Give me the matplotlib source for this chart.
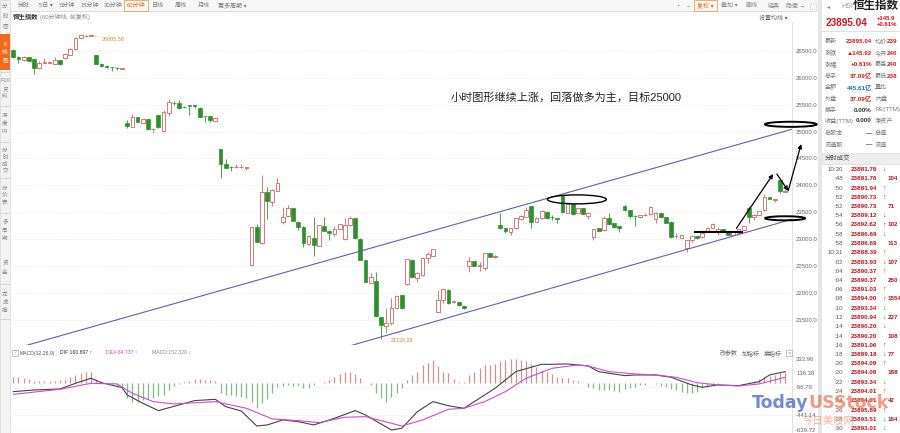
import matplotlib
matplotlib.use("Agg")
import matplotlib.pyplot as plt
from matplotlib.patches import Rectangle, Ellipse
import numpy as np

plt.rcParams['font.family'] = ['Liberation Sans', 'Noto Sans CJK SC', 'DejaVu Sans']

W, H = 900, 433

# 60-minute HSI candles
opens = [26514, 26390, 26328, 26378, 26340, 26173, 26279, 26280, 26260, 26322,
         26359, 26421, 26526, 26743, 26774, 26780, 26421, 26254, 26223, 26192,
         26186, 26167, 25152, 25084, 25263, 25158, 25226, 25040, 25307, 25016,
         25350, 25530, 25530, 25462, 25486, 25486, 25443, 25288, 25288, 25201,
         24669, 24391, 24347, 24335, 24335, 24323, 22521, 23233, 22936, 23871,
         23697, 23902, 23314, 23431, 23574, 23326, 23233, 22905, 23016, 22880,
         23252, 23159, 23103, 23190, 23010, 23258, 23388, 23010, 22608, 22193,
         22230, 21549, 21382, 21438, 21717, 21964, 22162, 22614, 22286, 22335,
         22645, 22688, 21654, 21871, 22057, 21840, 21840, 21760, 22502, 22589,
         22509, 22459, 22738, 22670, 23264, 23202, 23140, 23202, 23369, 23419,
         23617, 23320, 23388, 23511, 23407, 23388, 23808, 23493, 23654, 23493,
         23573, 23431, 23035, 23202, 23171, 23388, 23295, 23245, 23617, 23542,
         23437, 23406, 23450, 23462, 23369, 23480, 23406, 23326, 23060, 23016,
         22830, 22985, 23060, 23035, 23140, 23202, 23159, 23183, 23140, 23078,
         23121, 23171, 23573, 23406, 23450, 23542, 23778, 23734, 24099, 23880]
highs = [26532, 26402, 26402, 26384, 26353, 26310, 26359, 26290, 26378, 26334,
         26458, 26551, 26755, 26792, 26795, 26805.58, 26427, 26279, 26229, 26204,
         26204, 26186, 25214, 25332, 25270, 25239, 25232, 25065, 25313, 25400,
         25598, 25567, 25585, 25474, 25492, 25492, 25455, 25294, 25294, 25263,
         24675, 24484, 24353, 24391, 24403, 24347, 23233, 23283, 24193, 23976,
         23926, 24131, 23605, 23636, 23580, 23332, 23239, 23072, 23406, 23264,
         23406, 23165, 23239, 23283, 23388, 23431, 23394, 23016, 22614, 22366,
         22385, 21556, 21716, 21902, 21964, 21970, 22639, 22626, 22397, 22657,
         22769, 22824, 22057, 22088, 22069, 21871, 21846, 21766, 22676, 22595,
         22583, 22750, 22744, 22707, 23480, 23208, 23214, 23400, 23443, 23592,
         23623, 23419, 23542, 23518, 23450, 23394, 23821, 23666, 23660, 23604,
         23579, 23499, 23196, 23208, 23431, 23493, 23301, 23251, 23635, 23548,
         23450, 23456, 23493, 23617, 23511, 23487, 23412, 23332, 23109, 23084,
         22991, 23078, 23066, 23171, 23227, 23295, 23233, 23190, 23146, 23134,
         23190, 23251, 23617, 23462, 23530, 23839, 23784, 23753, 24118, 23930]
lows = [26359, 26266, 26316, 26309, 26062, 26167, 26279, 26275, 26254, 26241,
        26353, 26415, 26520, 26737, 26749, 26774, 26248, 26204, 26186, 26130,
        26142, 26161, 25059, 25078, 25177, 25152, 25034, 24979, 25071, 24997,
        25294, 25492, 25418, 25431, 25307, 25440, 25270, 25183, 25170, 25195,
        24143, 24316, 24273, 24329, 24329, 24285, 22509, 22948, 22917, 23369,
        23617, 23896, 23283, 23413, 23332, 23171, 22862, 22899, 22695, 22874,
        23153, 22985, 23066, 23184, 22985, 23252, 23010, 22608, 22206, 22181,
        21562, 21139.26, 21252, 21407, 21710, 21710, 22156, 22292, 22212, 22323,
        22552, 22682, 21648, 21809, 21803, 21809, 21766, 21704, 22397, 22496,
        22416, 22428, 22670, 22645, 23196, 23109, 23078, 23196, 23363, 23412,
        23202, 23313, 23381, 23381, 23357, 23295, 23493, 23487, 23450, 23480,
        23462, 23369, 22985, 23146, 23159, 23270, 23214, 23140, 23524, 23388,
        23245, 23400, 23431, 23456, 23307, 23400, 23301, 23016, 23016, 23010,
        22769, 22954, 23010, 23016, 23134, 23196, 23078, 23146, 23072, 23072,
        23115, 23165, 23295, 23357, 23443, 23530, 23747, 23697, 23852, 23870]
closes = [26378, 26340, 26384, 26316, 26186, 26279, 26285, 26282, 26334, 26248,
          26439, 26539, 26743, 26786, 26780, 26792, 26254, 26223, 26192, 26190,
          26184, 26180, 25102, 25276, 25183, 25226, 25040, 25053, 25078, 25356,
          25542, 25528, 25431, 25455, 25468, 25480, 25276, 25282, 25220, 25257,
          24397, 24329, 24341, 24341, 24341, 24335, 23221, 22955, 23883, 23716,
          23914, 24050, 23419, 23574, 23338, 23221, 22923, 23066, 22892, 23258,
          23159, 23109, 23190, 23276, 23264, 23400, 23016, 22614, 22212, 22305,
          21574, 21407, 21444, 21729, 21952, 21716, 22626, 22304, 22366, 22645,
          22719, 22812, 21871, 22069, 21809, 21846, 21778, 21716, 22595, 22502,
          22515, 22738, 22676, 22682, 23202, 23159, 23202, 23388, 23431, 23542,
          23326, 23400, 23524, 23388, 23405, 23382, 23511, 23654, 23468, 23573,
          23468, 23493, 23183, 23152, 23388, 23282, 23220, 23202, 23542, 23437,
          23431, 23450, 23456, 23604, 23480, 23406, 23307, 23047, 23066, 23078,
          22985, 23060, 23016, 23121, 23214, 23282, 23190, 23152, 23078, 23128,
          23183, 23245, 23406, 23450, 23524, 23778, 23753, 23747, 23901, 23895.04]
price_ticks = [21500, 22000, 22500, 23000, 23500, 24000, 24500, 25000, 25500, 26000, 26500]

# MACD(12,26,9) panel
macd_hist = [92, 83, 69, 55, 37, 32, 32, 32, 32, 46, 46, 83, 115, 147, 152, 152,
             55, 23, 9, -9, -23, -46,
             -207, -253, -253, -230, -221, -207, -175, -161, -92, -37, -9, 14, 37, 55, 55, 46, 41, 32,
             -138, -161, -161, -170, -184, -207, -253, -345, -276, -221, -138, -55,
             -37, -23, -37, -37, -60, -60, -23, 9,
             23, 46, 92, 124, 161, 161, 129, 69, 0, -23,
             -138, -207, -253, -184, -138, -69,
             46, 115, 161, 253, 276, 322, 239, 161, 138,
             55, 14, 14,
             115, 161, 207, 253, 253, 262, 313, 322, 331, 331, 322, 313,
             267, 230, 184, 161, 129, 83, 69, 69, 46, 37, 9,
             -46, -69, -92, -92, -92, -101, -115, -83, -69, -46, -23, -23, 0,
             -14, -37, -46, -83, -92, -115, -129, -129, -115, -69, -46, -23, -9,
             0, 0, 0, 0, 9, 23, 37, 55, 83, 101, 115, 138, 152]
dif_bar = [1, 5, 10, 13, 16, 18, 22, 23, 26, 29, 33, 36, 40, 42, 45, 48, 50, 53, 56, 59,
           63, 67, 69, 74, 76, 79, 82, 85, 88, 91, 94, 98, 103, 105, 108, 112, 114, 119, 121, 125,
           128, 132, 134, 137, 141, 145, 147, 150]
dif_val = [-115, -92, -78, 0, 69, 9, -60, -161, -276, -377, -299, -239, -221, -322, -382, -589, -575, -506, -529, -575,
           -483, -377, -437, -644, -621, -391, -253, -310, -345, -207, -69, 161, 262, 262, 267, 239, 161, 106, 115, 115,
           83, -23, -55, -23, -32, 23, 115, 161]
dea_bar = [1, 10, 16, 21, 24, 28, 32, 40, 46, 51, 56, 60, 65, 69, 76, 80, 85, 88, 92, 96,
           100, 105, 110, 112, 116, 121, 125, 129, 133, 137, 141, 145, 150]
dea_val = [-152, -83, 0, -9, -138, -253, -285, -253, -345, -492, -515, -543, -469, -460, -589, -506, -359, -345, -253, -115,
           69, 207, 253, 239, 161, 129, 115, 83, 9, -23, -37, -9, 83]
macd_ticks = [333.96, 136.38, -56.79, -441.14, -639.72]

# quote panel on the right (second column is cut by the window edge)
quote_rows = [('最新', '23895.04', '均价', '239'),
              ('涨跌', '▲145.92', '今开', '240'),
              ('涨幅', '+0.61%', '最高', '240'),
              ('总手', '37.09亿', '最低', '238'),
              ('金额', '445.61亿', '量比', ''),
              ('外盘', '37.09亿', '内盘', ''),
              ('换手', '0.00%', 'PE(TTM)', ''),
              ('收益(TTM)', '0.000', '净资产', ''),
              ('总股本', '—', '总值', ''),
              ('流通股', '—', '流值', '')]
trade_times = ['10:30', ':48', ':50', ':52', ':52', ':54', ':56', ':58', ':58', '10:31',
               ':02', ':04', ':04', ':06', ':08', ':10', ':12', ':14', ':14', ':16',
               ':18', ':20', ':20', ':22', ':24', ':24', ':26', ':28', ':30']
trade_prices = ['23881.76', '23881.76', '23881.94', '23890.73', '23890.73', '23889.12', '23892.62',
                '23886.69', '23886.69', '23888.39', '23883.93', '23890.37', '23890.37', '23891.03',
                '23894.00', '23893.34', '23890.94', '23890.20', '23890.20', '23891.06', '23889.18',
                '23894.09', '23894.09', '23893.34', '23894.01', '23894.01', '23895.89', '23893.51',
                '23893.01']
trade_dirs = ['d', '', 'u', 'u', '', 'd', 'u', 'd', '', 'u', 'd', 'u', '', 'u', 'u', 'd', 'd', 'd',
              '', 'u', 'd', 'u', '', 'd', 'u', '', 'u', 'd', 'd']
trade_vols = ['', '104', '', '', '71', '', '102', '', '113', '', '107', '', '250', '', '1554', '',
              '227', '', '108', '', '77', '', '188', '', '', '42', '', '164', '']

UP = '#c86666'
DN = '#2f8f2f'

fig = plt.figure(figsize=(9, 4.33), dpi=100)


def txt(x, y, s, **kw):
    kw.setdefault('fontsize', 4.5)
    kw.setdefault('va', 'center')
    kw.setdefault('color', '#666666')
    return fig.text(x / W, 1 - y / H, s, **kw)


def box(x0, y0, x1, y1, **kw):
    fig.add_artist(Rectangle((x0 / W, 1 - y1 / H), (x1 - x0) / W, (y1 - y0) / H,
                             transform=fig.transFigure, **kw))


# ---- window chrome ----
box(0, 0, 822, 11, facecolor='#f7f7f7', edgecolor='none')
box(0, 11, 822, 11.6, facecolor='#dddddd', edgecolor='none')
box(0, 0, 10, 433, facecolor='#f3f3f3', edgecolor='#d8d8d8', lw=0.5)
box(818, 0, 822, 433, facecolor='#e6e6e6', edgecolor='none')

tools = [('分时', 24), ('5日 ▾', 46), ('5分钟', 67), ('15分钟', 90), ('30分钟', 113),
         ('60分钟', 136), ('日线', 158), ('周线', 181), ('月线', 204), ('更多周期 ▾', 232)]
for s, cx in tools:
    txt(cx, 5.7, s, ha='center', fontsize=4.3,
        color='#e0701c' if s == '60分钟' else '#777777')
box(124, 0.5, 148, 10.5, facecolor='none', edgecolor='#e8a060', lw=0.6)
for s, cx in [('+', 678), ('−', 688), ('复权 ▾', 705), ('叠加 ▾', 729), ('画线', 751),
              ('经典', 774), ('隐藏 ↔', 796)]:
    txt(cx, 5.7, s, ha='center', fontsize=4.3,
        color='#e0701c' if s.startswith('复权') else '#888888')
box(694, 0.5, 717, 10.5, facecolor='none', edgecolor='#e8a060', lw=0.6)
box(810, 3, 816, 9, facecolor='none', edgecolor='#aaaaaa', lw=0.5, linestyle=':')

txt(12.5, 17.3, '恒生指数', fontsize=4.6, color='#333333', fontweight='bold')
txt(40, 17.3, '(60分钟线, 前复权)', fontsize=4.3, color='#888888')
txt(788, 17.3, '设置均线 ▾', ha='right', fontsize=4.3, color='#666666')

# left tabs
box(0, 34, 10, 70, facecolor='#f26a1b', edgecolor='none')
tabs = [('分时图', [6, 16, 26]), ('K线图', [44, 52, 60]), (['F10', '资', '料'], [81, 89, 96]),
        ('深度', [115.7, 124]), (['F9'], [131.7]), ('分时成交', [150, 157.7, 164.3, 171]),
        ('分价表', [188, 195, 202]), ('多周期', [222, 230, 238]), ('资金', [262, 272]),
        ('龙虎榜', [294, 302, 310])]
for chars, ys in tabs:
    for ch, yy in zip(chars, ys):
        txt(5, yy, ch, ha='center', fontsize=4.0,
            color='white' if ys[0] == 44 else '#888888')
for yy in [72, 106, 142, 178, 213, 248, 284, 319]:
    box(0, yy, 10, yy + 0.5, facecolor='#d8d8d8', edgecolor='none')

# ---- main candle chart ----
ax = fig.add_axes([10 / W, 1 - 345 / H, 782 / W, 323 / H])
ax.set_xlim(-0.64, 150.33)
ax.set_ylim(21036, 27034)
for sp in ['left', 'top', 'bottom']:
    ax.spines[sp].set_visible(False)
ax.spines['right'].set_color('#dddddd')
ax.spines['right'].set_linewidth(0.6)
ax.set_xticks([])
ax.yaxis.tick_right()
ax.set_yticks(price_ticks)
ax.set_yticklabels(['%.1f' % p for p in price_ticks])
ax.tick_params(axis='y', length=0, pad=3, labelsize=4.3, labelcolor='#666666')
for p in price_ticks:
    ax.axhline(p, color='#dcdcdc', lw=0.5, ls=(0, (1, 2)), zorder=0)

bw = 0.72
for i in range(len(closes)):
    o, h, l, c = opens[i], highs[i], lows[i], closes[i]
    if c >= o:
        ax.add_patch(Rectangle((i - bw / 2, o), bw, max(c - o, 4), facecolor='white',
                               edgecolor=UP, lw=0.6, zorder=3))
        ax.vlines(i, c, h, color=UP, lw=0.6, zorder=2)
        ax.vlines(i, l, o, color=UP, lw=0.6, zorder=2)
    else:
        ax.add_patch(Rectangle((i - bw / 2, c), bw, max(o - c, 4), facecolor=DN,
                               edgecolor=DN, lw=0.5, zorder=3))
        ax.vlines(i, l, h, color=DN, lw=0.6, zorder=2)

hi_i = int(np.argmax(highs))
lo_i = int(np.argmin(lows))
ax.annotate('%.2f' % highs[hi_i], xy=(hi_i + 0.2, highs[hi_i] - 20), xytext=(7, -3),
            textcoords='offset points', fontsize=4.0, color='#c98a3c', va='center',
            arrowprops=dict(arrowstyle='-', color='#c98a3c', lw=0.5))
ax.annotate('%.2f' % lows[lo_i], xy=(lo_i + 0.2, lows[lo_i]), xytext=(6, -1),
            textcoords='offset points', fontsize=4.0, color='#c98a3c', va='center',
            annotation_clip=False,
            arrowprops=dict(arrowstyle='-', color='#c98a3c', lw=0.5))

# hand drawn study lines
chan = '#6060a8'
ax.plot([1.6, 150.5], [21004, 25047], color=chan, lw=0.8, zorder=4)
ax.plot([64.4, 150.5], [21004, 23376], color=chan, lw=0.8, zorder=4)
for e in [Ellipse((108.8, 23740), 11.4, 167, fill=False, ec='black', lw=1.0),
          Ellipse((150.1, 25134), 10.0, 95, fill=False, ec='black', lw=1.4),
          Ellipse((149.0, 23389), 7.7, 75, fill=False, ec='black', lw=1.4)]:
    e.set_clip_on(False)
    e.set_zorder(6)
    ax.add_patch(e)
ax.plot([131.6, 140.6], [23129, 23129], color='black', lw=1.5, zorder=6)
for (x0, y0), (x1, y1) in [((139.6, 23203), (146.7, 24211)),
                           ((147.4, 24211), (149.6, 23901)),
                           ((149.6, 23901), (152.1, 24768))]:
    a = ax.annotate('', xy=(x1, y1), xytext=(x0, y0), annotation_clip=False,
                    arrowprops=dict(arrowstyle='-|>', color='black', lw=0.9,
                                    mutation_scale=6, shrinkA=0, shrinkB=0))
    a.arrow_patch.set_clip_on(False)
    a.set_zorder(7)

txt(566, 97, '小时图形继续上涨，回落做多为主，目标25000', ha='center', fontsize=8,
    color='#222222')

# ---- MACD panel ----
box(10, 346.5, 818, 347.1, facecolor='#dddddd', edgecolor='none')
ax2 = fig.add_axes([10 / W, 0, 782 / W, 86 / H])
ax2.set_xlim(-0.64, 150.33)
ax2.set_ylim(-686, 501)
for sp in ['left', 'top', 'bottom']:
    ax2.spines[sp].set_visible(False)
ax2.spines['right'].set_color('#dddddd')
ax2.spines['right'].set_linewidth(0.6)
ax2.set_xticks([])
ax2.yaxis.tick_right()
ax2.set_yticks(macd_ticks)
ax2.set_yticklabels(['%.2f' % v for v in macd_ticks])
ax2.tick_params(axis='y', length=0, pad=3, labelsize=4.3, labelcolor='#666666')
for v in macd_ticks[2:]:
    ax2.axhline(v, color='#e0e0e0', lw=0.5, ls=(0, (1, 2)), zorder=0)
xs = np.arange(len(macd_hist))
hv = np.array(macd_hist)
ax2.vlines(xs, 0, hv, colors=np.where(hv >= 0, '#cf9090', '#86b886'), lw=0.9)
ax2.plot(np.array(dif_bar) - 1, dif_val, color='#444444', lw=0.8)
ax2.plot(np.array(dea_bar) - 1, dea_val, color='#c452cc', lw=0.8)

box(12, 350, 18, 356, facecolor='none', edgecolor='#aaaaaa', lw=0.5)
txt(15, 353, '?', ha='center', fontsize=3.5, color='#999999')
txt(20, 353, 'MACD(12,26,9)', fontsize=3.7, color='#555555')
txt(60, 353, 'DIF:160.897 ↑', fontsize=3.7, color='#333333')
txt(106, 353, 'DEA:84.737 ↑', fontsize=3.7, color='#c452cc')
txt(152, 353, 'MACD:152.320 ↓', fontsize=3.7, color='#888888')
for s, cx in [('改参数', 729), ('加指标', 751), ('换指标', 773)]:
    txt(cx, 353, s, ha='center', fontsize=4.3, color='#666666')
box(786, 350, 792, 356, facecolor='none', edgecolor='#aaaaaa', lw=0.5)
txt(789, 353, '×', ha='center', fontsize=4.2, color='#888888')

# ---- right quote panel ----
txt(827, 6.5, '◂', fontsize=4.5, color='#888888')
txt(841, 7, 'HSI', fontsize=5, color='#999999')
txt(853, 6.5, '恒生指数', fontsize=8.3, color='#222222', fontweight='bold')
txt(826, 22.5, '23895.04', fontsize=7.2, color='#d0141c', fontweight='bold')
txt(877, 18.3, '+145.9', fontsize=4.3, color='#d0141c', fontweight='bold')
txt(877, 25, '+0.61%', fontsize=4.3, color='#d0141c', fontweight='bold')
box(822, 31, 900, 31.5, facecolor='#e0e0e0', edgecolor='none')
row_y = [41.7, 53.3, 64.3, 76, 87.7, 99.3, 110, 121, 133.3, 145]
for (l1, v1, l2, v2), yy in zip(quote_rows, row_y):
    txt(825, yy, l1, fontsize=4.4, color='#777777')
    vc = '#1f6fb5' if l1 == '金额' else ('#333333' if l1 in ('换手', '收益(TTM)', '总股本', '流通股') else '#c81c1c')
    txt(872, yy, v1, ha='right', fontsize=4.5, color=vc, fontweight='bold')
    txt(875, yy, l2, fontsize=4.4, color='#777777')
    if v2:
        txt(887, yy, v2, fontsize=4.5, color='#c81c1c', fontweight='bold')
box(822, 152.5, 900, 164, facecolor='#eeeeee', edgecolor='#dddddd', lw=0.5)
txt(825, 158.3, '分时成交', fontsize=4.6, color='#444444')
for k in range(len(trade_times)):
    yy = 169.5 + k * 9.25
    txt(843, yy, trade_times[k], ha='right', fontsize=4.4, color='#555555')
    txt(851, yy, trade_prices[k], fontsize=4.5, color='#b8141c', fontweight='bold')
    if trade_dirs[k]:
        up = trade_dirs[k] == 'u'
        txt(882, yy, '↑' if up else '↓', fontsize=5, fontweight='bold',
            color='#e0141c' if up else '#1a9a1a')
    if trade_vols[k]:
        txt(887.5, yy, trade_vols[k], fontsize=4.5, color='#b8141c', fontweight='bold')

# watermark
txt(752, 403, 'Today', fontsize=12.5, fontweight='bold', color='#4a62c4', alpha=0.75,
    family='DejaVu Sans')
txt(808, 403, 'USStock', fontsize=12.5, fontweight='bold', color='#ee7a58', alpha=0.75,
    family='DejaVu Sans')
txt(803, 421, '今日美股网', fontsize=7.5, color='#f2a48c', alpha=0.85,
    family=['Noto Sans CJK SC'])

fig.savefig('out.png', dpi=100)
